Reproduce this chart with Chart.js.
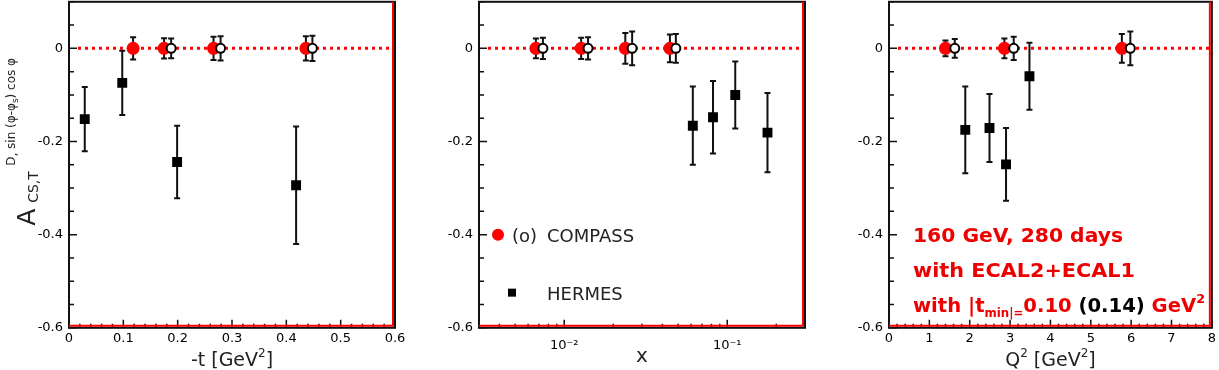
<!DOCTYPE html>
<html>
<head>
<meta charset="utf-8">
<script src="https://cdn.jsdelivr.net/npm/chart.js@4/dist/chart.umd.min.js"></script>
<style>
  body { margin: 0; background: #fff; width: 1219px; height: 370px; overflow: hidden; position: relative; }
  canvas { position: absolute; top: 0; }
</style>
</head>
<body>
<canvas id="chart-t" width="410" height="400" style="left:0"></canvas>
<canvas id="chart-x" width="410" height="400" style="left:410px"></canvas>
<canvas id="chart-q" width="399" height="400" style="left:820px"></canvas>
<script>
// ---- data ----
// -t panel
const tCompassX = [0.118, 0.175, 0.266, 0.436];
const tCompassErr = [0.024, 0.022, 0.025, 0.026];
const tOpenX = [0.188, 0.279, 0.448];
const tOpenErr = [0.021, 0.026, 0.027];
const tHermesX = [0.029, 0.098, 0.199, 0.418];
const tHermesY = [-0.152, -0.074, -0.244, -0.294];
const tHermesErr = [0.069, 0.069, 0.078, 0.126];
const tTickLabels = ['0', '0.1', '0.2', '0.3', '0.4', '0.5', '0.6'];

// x (Bjorken) panel
const xCompassX = [0.0067, 0.0127, 0.0237, 0.0445];
const xCompassErr = [0.021, 0.023, 0.033, 0.030];
const xOpenX = [0.0074, 0.0140, 0.0261, 0.0484];
const xOpenErr = [0.023, 0.024, 0.036, 0.031];
const xHermesX = [0.0615, 0.0818, 0.112, 0.1766];
const xHermesY = [-0.166, -0.148, -0.100, -0.181];
const xHermesErr = [0.084, 0.078, 0.072, 0.085];
const xLabelValues = [0.01, 0.1];
const xLabelTexts = ['10\u207B\u00B2', '10\u207B\u00B9'];

// Q^2 panel
const qCompassX = [1.40, 2.86, 5.77];
const qCompassErr = [0.017, 0.021, 0.031];
const qOpenX = [1.63, 3.09, 5.98];
const qOpenErr = [0.020, 0.025, 0.036];
const qHermesX = [1.89, 2.49, 2.90, 3.48];
const qHermesY = [-0.175, -0.171, -0.249, -0.060];
const qHermesErr = [0.093, 0.073, 0.078, 0.072];
const qTickLabels = ['0', '1', '2', '3', '4', '5', '6', '7', '8'];

const yTickLabels = ['0', '-0.2', '-0.4', '-0.6'];

const RED = '#ff0000';
const INK = '#111';
const FONT = 'DejaVu Sans';
// plot frame on the page, per panel (left, top, right, bottom)
const AREA = { left: 69, top: 2, right: 395, bottom: 328 };

function fmt(v) { return String(+v.toFixed(3)); }
// page y -> canvas y (canvases are moved up so the frame top lands on AREA.top)
function cy(chart, y) { return y + (chart.$shift || 0); }

function makeDatasets(cX, cErr, oX, oErr, hX, hY, hErr) {
  return [
    { label: 'COMPASS open', data: oX.map(x => ({ x, y: 0 })), err: oErr,
      pointStyle: 'circle', pointRadius: 4.5, pointBackgroundColor: '#fff',
      pointBorderColor: '#000', pointBorderWidth: 2 },
    { label: 'COMPASS', data: cX.map(x => ({ x, y: 0 })), err: cErr,
      pointStyle: 'circle', pointRadius: 6.5, pointBackgroundColor: RED,
      pointBorderColor: RED, pointBorderWidth: 0 },
    { label: 'HERMES', data: hX.map((x, i) => ({ x, y: hY[i] })), err: hErr,
      pointStyle: 'rect', pointRadius: 7, pointBackgroundColor: '#000',
      pointBorderColor: '#000', pointBorderWidth: 0 }
  ];
}

// draws rich text (list of [text, size, dy, color, bold]) starting at x,
// squeezed or stretched to width fitW when given
function rich(ctx, parts, x, y, align, fitW) {
  let w = 0;
  parts.forEach(p => {
    ctx.font = (p[4] ? 'bold ' : '') + p[1] + 'px ' + FONT;
    w += ctx.measureText(p[0]).width;
  });
  const sx = fitW ? fitW / w : 1;
  ctx.save();
  ctx.translate(align === 'center' ? x - w * sx / 2 : x, y);
  ctx.scale(sx, 1);
  ctx.textAlign = 'left';
  ctx.textBaseline = 'alphabetic';
  let cx = 0;
  parts.forEach(p => {
    ctx.font = (p[4] ? 'bold ' : '') + p[1] + 'px ' + FONT;
    ctx.fillStyle = p[3] || INK;
    ctx.fillText(p[0], cx, p[2] || 0);
    cx += ctx.measureText(p[0]).width;
  });
  ctx.restore();
}

// zero line, error bars, frame and inward ticks like the ROOT frame
const rootFrame = {
  id: 'rootFrame',
  beforeDatasetsDraw(chart) {
    const { ctx, chartArea: a, scales } = chart;
    const y0 = scales.y.getPixelForValue(0);
    ctx.save();
    ctx.strokeStyle = RED;
    ctx.lineWidth = 3;
    ctx.setLineDash([3, 4]);
    ctx.beginPath();
    ctx.moveTo(a.left + 9, y0);
    ctx.lineTo(a.right, y0);
    ctx.stroke();
    ctx.setLineDash([]);

    ctx.strokeStyle = INK;
    ctx.lineWidth = 2;
    chart.data.datasets.forEach(ds => {
      ds.data.forEach((p, i) => {
        const px = scales.x.getPixelForValue(p.x);
        const top = scales.y.getPixelForValue(p.y + ds.err[i]);
        const bot = scales.y.getPixelForValue(p.y - ds.err[i]);
        ctx.beginPath();
        ctx.moveTo(px, top); ctx.lineTo(px, bot);
        ctx.moveTo(px - 3, top); ctx.lineTo(px + 3, top);
        ctx.moveTo(px - 3, bot); ctx.lineTo(px + 3, bot);
        ctx.stroke();
      });
    });
    ctx.restore();
  },
  afterDatasetsDraw(chart) {
    const { ctx, chartArea: a, scales } = chart;
    ctx.save();
    ctx.strokeStyle = INK;
    ctx.lineWidth = 1.5;
    ctx.beginPath();
    scales.y.ticks.forEach(t => {
      const py = scales.y.getPixelForValue(t.value);
      const len = t.label ? 8 : 5;
      ctx.moveTo(a.left, py); ctx.lineTo(a.left + len, py);
    });
    scales.x.ticks.forEach(t => {
      const px = scales.x.getPixelForValue(t.value);
      const len = t.label ? 8 : 4;
      ctx.moveTo(px, a.bottom); ctx.lineTo(px, a.bottom - len);
    });
    ctx.stroke();

    ctx.lineWidth = 2;
    ctx.strokeRect(a.left, a.top, a.right - a.left, a.bottom - a.top);
    ctx.strokeStyle = RED;
    ctx.beginPath();
    ctx.moveTo(a.left, a.bottom - 2); ctx.lineTo(a.right - 2, a.bottom - 2);
    ctx.lineTo(a.right - 2, a.top);
    ctx.stroke();
    ctx.restore();

    // x axis title
    rich(ctx, chart.options.xTitle, (a.left + a.right) / 2, cy(chart, chart.options.xTitleY), 'center');
  }
};

function makeChart(id, xScale, datasets, opts, extra) {
  const canvas = document.getElementById(id);
  let shift = 0;
  const chart = new Chart(canvas, {
    type: 'scatter',
    data: { datasets },
    options: Object.assign({
      responsive: false,
      animation: false,
      layout: { padding: { top: AREA.top, right: canvas.width - AREA.right, left: 0, bottom: 0 } },
      plugins: { legend: { display: false }, tooltip: { enabled: false } },
      scales: {
        x: Object.assign({
          position: 'bottom',
          grid: { display: false, drawTicks: false },
          border: { display: false },
          afterFit: s => { s.height = canvas.height - (AREA.bottom + shift); }
        }, xScale),
        y: {
          min: -0.6, max: 0.1,
          grid: { display: false, drawTicks: false },
          border: { display: false },
          afterFit: s => { s.width = AREA.left; },
          ticks: {
            stepSize: 0.05, maxTicksLimit: 100, autoSkip: false, padding: 6,
            color: '#000', font: { family: FONT, size: 13 },
            callback: v => yTickLabels.includes(fmt(v)) ? fmt(v) : ''
          }
        }
      }
    }, opts.options),
    plugins: [rootFrame].concat(extra ? [extra] : [])
  });
  // Chart.js keeps room above the top tick label; move the canvas up instead
  shift = chart.chartArea.top - AREA.top;
  chart.$shift = shift;
  canvas.style.top = (-shift) + 'px';
  chart.update();
  return chart;
}

const tickFont = { family: FONT, size: 13 };

// -t panel
makeChart('chart-t', {
  type: 'linear', min: 0, max: 0.6,
  ticks: { stepSize: 0.02, maxTicksLimit: 100, autoSkip: false, padding: 3,
    maxRotation: 0, minRotation: 0, color: '#000', font: tickFont,
    callback: v => tTickLabels.includes(fmt(v)) ? fmt(v) : '' }
}, makeDatasets(tCompassX, tCompassErr, tOpenX, tOpenErr, tHermesX, tHermesY, tHermesErr),
{ options: { xTitleY: 366, xTitle: [['-t [GeV', 19, 0, '#222'], ['2', 12, -9, '#222'], [']', 19, 0, '#222']] } },
{
  id: 'yTitle',
  afterDraw(chart) {
    const ctx = chart.ctx;
    const vt = (parts, x, y) => {
      ctx.save();
      ctx.translate(x, cy(chart, y));
      ctx.rotate(-Math.PI / 2);
      rich(ctx, parts, 0, 0, 'left');
      ctx.restore();
    };
    vt([['A', 25, 0, '#222']], 35, 226);
    vt([['CS,T', 14, 0, '#222']], 38, 203);
    vt([['D', 12, 0, '#222'], [',', 12, 2, '#222'], [' sin (\u03C6-\u03C6', 12, 0, '#222'], ['s', 9, 3, '#222'], [') cos \u03C6', 12, 0, '#222']], 15, 166);
  }
});

// x panel (log)
makeChart('chart-x', {
  type: 'logarithmic', min: 0.003, max: 0.3,
  afterBuildTicks: s => {
    const vals = [];
    [0.001, 0.01, 0.1].forEach(d => {
      for (let k = 1; k <= 9; k++) {
        const v = +(k * d).toPrecision(3);
        if (v >= 0.003 && v <= 0.3) vals.push(v);
      }
    });
    s.ticks = vals.map(v => ({ value: v }));
  },
  ticks: { autoSkip: false, padding: 10, maxRotation: 0, minRotation: 0,
    color: '#000', font: tickFont,
    callback: v => {
      const i = xLabelValues.findIndex(u => Math.abs(u - v) / u < 1e-6);
      return i >= 0 ? xLabelTexts[i] : '';
    } }
}, makeDatasets(xCompassX, xCompassErr, xOpenX, xOpenErr, xHermesX, xHermesY, xHermesErr),
{ options: { xTitleY: 362, xTitle: [['x', 20, 0, '#222']] } },
{
  id: 'legendBox',
  afterDraw(chart) {
    const { ctx, chartArea: a, scales } = chart;
    const y1 = scales.y.getPixelForValue(-0.4);
    const y2 = y1 + 58;
    ctx.save();
    ctx.fillStyle = RED;
    ctx.beginPath();
    ctx.arc(a.left + 19, y1, 6, 0, Math.PI * 2);
    ctx.fill();
    ctx.fillStyle = '#000';
    ctx.fillRect(a.left + 29, y2 - 4, 8, 8);
    ctx.restore();
    rich(ctx, [['(o)', 18, 0, '#222']], a.left + 33, y1 + 7, 'left');
    rich(ctx, [['COMPASS', 18, 0, '#222']], a.left + 68, y1 + 7, 'left');
    rich(ctx, [['HERMES', 18, 0, '#222']], a.left + 68, y2 + 7, 'left');
  }
});

// Q^2 panel
makeChart('chart-q', {
  type: 'linear', min: 0, max: 8,
  ticks: { stepSize: 0.2, maxTicksLimit: 100, autoSkip: false, padding: 3,
    maxRotation: 0, minRotation: 0, color: '#000', font: tickFont,
    callback: v => qTickLabels.includes(fmt(v)) ? fmt(v) : '' }
}, makeDatasets(qCompassX, qCompassErr, qOpenX, qOpenErr, qHermesX, qHermesY, qHermesErr),
{ options: { xTitleY: 366, xTitle: [['Q', 19, 0, '#222'], ['2', 12, -9, '#222'], [' [GeV', 19, 0, '#222'], ['2', 12, -9, '#222'], [']', 19, 0, '#222']] } },
{
  id: 'noteText',
  afterDraw(chart) {
    const { ctx, chartArea: a } = chart;
    const x0 = a.left + 24;
    const TR = '#ee0000';
    rich(ctx, [['160 GeV, 280 days', 20, 0, TR, true]], x0, cy(chart, 242), 'left', 210);
    rich(ctx, [['with ECAL2+ECAL1', 20, 0, TR, true]], x0, cy(chart, 277), 'left', 222);
    rich(ctx, [['with |t', 20, 0, TR, true], ['min|=', 12, 5, TR, true], ['0.10 ', 20, 0, TR, true],
      ['(0.14) ', 20, 0, '#000', true], ['GeV', 20, 0, TR, true], ['2', 13, -9, TR, true]], x0, cy(chart, 312), 'left', 292);
  }
});
</script>
</body>
</html>
